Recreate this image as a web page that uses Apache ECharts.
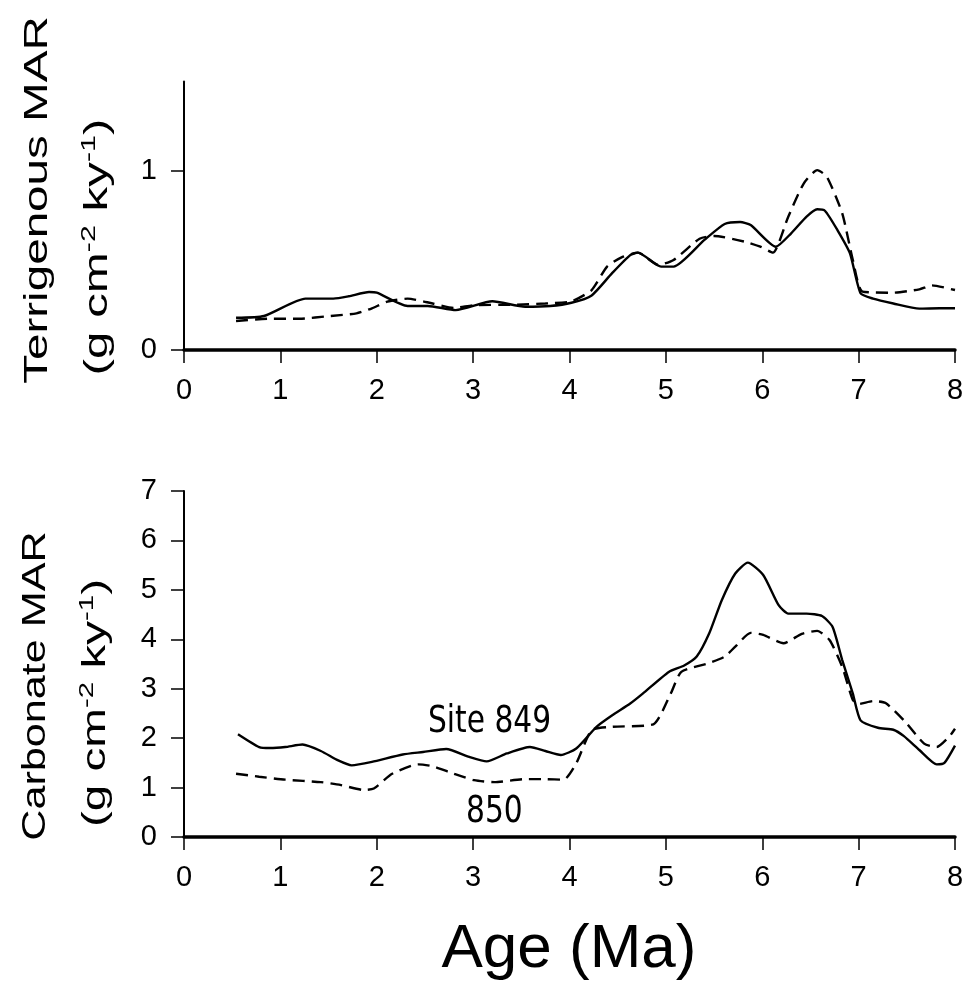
<!DOCTYPE html>
<html>
<head>
<meta charset="utf-8">
<script src="https://cdn.jsdelivr.net/npm/echarts@6/dist/echarts.min.js"></script>
<style>html,body{margin:0;padding:0;background:#fff}#c{width:968px;height:989px}</style>
</head>
<body>
<div id="c"></div>
<script>
// ---- Data (Age in Ma, MAR in g cm-2 ky-1) ----
const xTicks = [0, 1, 2, 3, 4, 5, 6, 7, 8];
const terrTicks = [0, 1];
const carbTicks = [0, 1, 2, 3, 4, 5, 6, 7];

// Terrigenous MAR, Site 849 (solid)
const terr849Age = [0.54,0.83,1.26,1.55,1.71,1.92,2.0,2.32,2.53,2.82,3.2,3.54,3.8,4.02,4.23,4.44,4.63,4.71,4.95,5.08,5.4,5.61,5.77,5.88,6.14,6.3,6.46,6.57,6.65,6.78,6.91,7.02,7.15,7.36,7.63,7.84,8.0];
const terr849Val = [0.18,0.19,0.287,0.287,0.30,0.324,0.32,0.246,0.246,0.223,0.272,0.242,0.246,0.264,0.305,0.428,0.53,0.544,0.466,0.466,0.615,0.704,0.715,0.698,0.577,0.652,0.745,0.786,0.778,0.67,0.54,0.317,0.287,0.26,0.231,0.233,0.233];
// Terrigenous MAR, Site 850 (dashed)
const terr850Age = [0.54,0.89,1.2,1.52,1.79,1.95,2.11,2.32,2.58,2.8,3.01,3.43,3.75,4.02,4.23,4.39,4.55,4.71,4.92,5.08,5.35,5.5,5.82,5.98,6.11,6.27,6.43,6.57,6.67,6.83,6.94,7.04,7.36,7.63,7.76,8.0];
const terr850Val = [0.162,0.175,0.175,0.19,0.205,0.233,0.27,0.287,0.26,0.235,0.25,0.253,0.26,0.272,0.335,0.466,0.52,0.544,0.475,0.503,0.622,0.637,0.605,0.577,0.544,0.745,0.93,1.005,0.968,0.763,0.503,0.326,0.32,0.339,0.361,0.335];

// Carbonate MAR, Site 849 (solid)
const carb849Age = [0.56,0.78,0.89,1.05,1.23,1.42,1.6,1.74,1.95,2.27,2.48,2.72,2.96,3.14,3.35,3.59,3.75,3.91,4.07,4.28,4.44,4.63,4.76,5.03,5.19,5.32,5.45,5.58,5.72,5.85,6.01,6.17,6.27,6.46,6.62,6.73,6.83,6.94,7.02,7.2,7.36,7.47,7.63,7.81,7.89,8.0];
const carb849Val = [2.08,1.82,1.80,1.82,1.87,1.74,1.55,1.45,1.52,1.67,1.72,1.78,1.62,1.53,1.69,1.82,1.74,1.66,1.79,2.23,2.46,2.70,2.90,3.34,3.47,3.65,4.12,4.79,5.33,5.55,5.30,4.69,4.52,4.52,4.47,4.25,3.58,2.90,2.36,2.21,2.17,2.04,1.76,1.47,1.50,1.85];
// Carbonate MAR, Site 850 (dashed)
const carb850Age = [0.54,0.78,1.05,1.42,1.63,1.87,1.97,2.16,2.43,2.58,2.8,3.01,3.22,3.54,3.75,3.94,4.07,4.23,4.44,4.87,5.05,5.16,5.45,5.61,5.72,5.88,6.01,6.22,6.41,6.57,6.7,6.83,6.94,7.0,7.15,7.28,7.47,7.68,7.81,7.94,8.0];
const carb850Val = [1.28,1.22,1.16,1.11,1.05,0.95,0.98,1.28,1.47,1.43,1.28,1.15,1.11,1.17,1.17,1.16,1.49,2.16,2.23,2.28,2.90,3.34,3.52,3.65,3.85,4.13,4.09,3.92,4.11,4.17,3.98,3.44,2.77,2.69,2.75,2.71,2.36,1.89,1.82,2.03,2.19];

const siteLabels = ['Site 849', '850'];
const siteLabelPos = [[3.17, 2.33], [3.22, 0.5]];

const zip = (a, b) => a.map((v, i) => [v, b[i]]);

const FONT = '"Liberation Sans", Arial, Helvetica, sans-serif';
const NARROW = '"Liberation Sans Narrow", "DejaVu Sans Condensed", "Liberation Sans", sans-serif';

const chart = echarts.init(document.getElementById('c'), null, {renderer: 'canvas'});

function xAxisCfg(gi) {
  return {
    type: 'value', gridIndex: gi, min: 0, max: 8, interval: 1,
    axisLine: {show: true, onZero: false, lineStyle: {color: '#000', width: 3.5}},
    axisTick: {show: true, length: 13, lineStyle: {color: '#000', width: 1.5}},
    axisLabel: {color: '#000', fontSize: 29, fontFamily: FONT, margin: 26, customValues: xTicks},
    splitLine: {show: false}
  };
}
function yAxisCfg(gi, max, ticks) {
  return {
    type: 'value', gridIndex: gi, min: 0, max: max, interval: 1,
    axisLine: {show: true, lineStyle: {color: '#000', width: 2}},
    axisTick: {show: true, length: 13, customValues: ticks, lineStyle: {color: '#000', width: 1.5}},
    axisLabel: {color: '#000', fontSize: 29, fontFamily: FONT, margin: 27, customValues: ticks},
    splitLine: {show: false}
  };
}
function lineSeries(xi, data, dashed) {
  return {
    type: 'line', xAxisIndex: xi, yAxisIndex: xi, data: data,
    showSymbol: false, symbol: 'none', smooth: 0.2,
    lineStyle: {color: '#000', width: 2.4, type: dashed ? [12, 7] : 'solid'},
    z: dashed ? 3 : 4
  };
}

function titleText(x, y, sx, txt) {
  return {type: 'text', x: x, y: y, rotation: Math.PI / 2, scaleX: sx,
    style: {text: txt, fontSize: 34, fontFamily: FONT, fill: '#000', align: 'center', verticalAlign: 'middle'}};
}
function unitText(x, y, sx) {
  return {type: 'text', x: x, y: y, rotation: Math.PI / 2, scaleX: sx,
    style: {
      text: '{a|(g cm}{b|-2}{a| ky}{b|-1}{a|)}',
      align: 'center', verticalAlign: 'middle', fill: '#000',
      rich: {
        a: {fontSize: 34, fontFamily: FONT, fill: '#000', lineHeight: 38},
        b: {fontSize: 21, fontFamily: FONT, fill: '#000', verticalAlign: 'top', lineHeight: 38, padding: [0, 0, 14, 0]}
      }
    }};
}

const option = {
  animation: false,
  backgroundColor: '#fff',
  grid: [
    {left: 184, right: 13, top: 81.5, height: 268.5},
    {left: 184, right: 13, top: 491, height: 346}
  ],
  xAxis: [xAxisCfg(0), xAxisCfg(1)],
  yAxis: [yAxisCfg(0, 1.5, terrTicks), yAxisCfg(1, 7, carbTicks)],
  series: [
    lineSeries(0, zip(terr849Age, terr849Val), false),
    lineSeries(0, zip(terr850Age, terr850Val), true),
    lineSeries(1, zip(carb849Age, carb849Val), false),
    lineSeries(1, zip(carb850Age, carb850Val), true)
  ],
  graphic: [
    titleText(38, 200, 1.4, 'Terrigenous MAR'),
    unitText(98, 247, 1.45),
    titleText(36, 686, 1.27, 'Carbonate MAR'),
    unitText(96, 703, 1.4),
    {type: 'text', x: 569, y: 950, style: {text: 'Age (Ma)', fontSize: 62, fontFamily: FONT, fill: '#000', align: 'center', verticalAlign: 'middle'}}
  ]
};
chart.setOption(option);

// place the site annotations at data coordinates
const ann = siteLabels.map((t, i) => {
  const p = chart.convertToPixel({gridIndex: 1}, siteLabelPos[i]);
  return {type: 'text', x: p[0], y: p[1], scaleY: 1.15,
    style: {text: t, fontSize: 33, fontFamily: NARROW, fill: '#000', align: 'center', verticalAlign: 'middle'}};
});
chart.setOption({graphic: option.graphic.concat(ann)});
</script>
</body>
</html>
